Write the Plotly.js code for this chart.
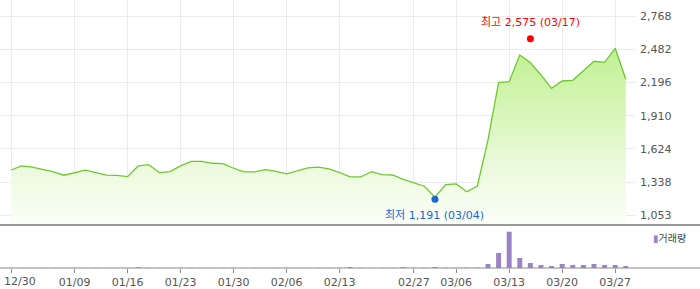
<!DOCTYPE html>
<html>
<head>
<meta charset="utf-8">
<script src="https://cdn.plot.ly/plotly-3.0.1.min.js"></script>
<style>html,body{margin:0;padding:0;background:#fff;}#chart{width:700px;height:289px;}</style>
</head>
<body>
<div id="chart"></div>
<script>
// ---- data ----
const dates = ['12/30','01/02','01/03','01/06','01/07','01/08','01/09','01/10','01/13','01/14',
  '01/15','01/16','01/17','01/20','01/21','01/22','01/23','01/24','01/27','01/28',
  '01/29','01/30','01/31','02/03','02/04','02/05','02/06','02/07','02/10','02/11',
  '02/12','02/13','02/14','02/17','02/18','02/24','02/25','02/26','02/27','02/28',
  '03/04','03/05','03/06','03/07','03/10','03/11','03/12','03/13','03/14','03/17',
  '03/18','03/19','03/20','03/21','03/24','03/25','03/26','03/27','03/28'];
const closePrice = [1443,1478,1467,1449,1426,1398,1420,1441,1420,1398,
  1396,1386,1478,1489,1420,1429,1478,1518,1518,1501,
  1498,1458,1426,1426,1446,1432,1409,1432,1461,1467,
  1452,1420,1383,1383,1429,1403,1400,1363,1334,1303,
  1208,1317,1323,1256,1305,1702,2196,2204,2434,2368,
  2262,2147,2210,2216,2299,2380,2371,2492,2225];
const volume = [20000,18000,15000,22000,17000,14000,19000,16000,21000,15000,
  18000,20000,80000,25000,17000,15000,19000,22000,16000,14000,
  18000,20000,15000,17000,16000,19000,21000,15000,18000,17000,
  20000,22000,100000,18000,16000,19000,21000,80000,24000,30000,
  100000,25000,28000,30000,35000,400000,1500000,3630000,1000000,500000,
  300000,200000,400000,300000,300000,400000,300000,300000,200000];
const tickDates = ['12/30','01/09','01/16','01/23','01/30','02/06','02/13','02/27','03/06','03/13','03/20','03/27'];
const priceTicks = [1053,1338,1624,1910,2196,2482,2768];
const priceTickText = ['1,053','1,338','1,624','1,910','2,196','2,482','2,768'];
const hiDate = '03/17', hiVal = 2575, hiLabel = '최고 2,575 (03/17)';
const loDate = '03/04', loVal = 1191, loLabel = '최저 1,191 (03/04)';
const volName = '거래량';

// ---- styles ----
const FONT = 'DejaVu Sans, Noto Sans CJK KR, sans-serif';
const priceRange = [969, 2908];
// the first label is drawn separately, nudged right so it stays inside the frame
const tickText = tickDates.map((d, i) => i === 0 ? '' : d);

const traces = [
  {
    x: dates, y: closePrice, type: 'scatter', mode: 'lines',
    xaxis: 'x2', yaxis: 'y',
    line: {color: '#6dc92e', width: 1.3},
    fill: 'tozeroy',
    fillgradient: {type: 'vertical', start: 969, stop: 2600,
      colorscale: [[0, '#fbfef8'], [0.3, '#ecfadd'], [1, '#bcef8a']]},
    hoverinfo: 'skip', showlegend: false
  },
  {
    x: [hiDate], y: [hiVal], type: 'scatter', mode: 'markers',
    xaxis: 'x2', yaxis: 'y',
    marker: {color: '#ff0000', size: 7}, showlegend: false, hoverinfo: 'skip', cliponaxis: false
  },
  {
    x: [loDate], y: [loVal], type: 'scatter', mode: 'markers',
    xaxis: 'x2', yaxis: 'y',
    marker: {color: '#1a66d6', size: 7}, showlegend: false, hoverinfo: 'skip', cliponaxis: false
  },
  {
    x: dates, y: volume, type: 'bar', xaxis: 'x', yaxis: 'y2',
    marker: {color: '#9b84c6'}, width: 0.47, showlegend: false, hoverinfo: 'skip'
  }
];

const xDomain = [0, 635/700];
const xRange = [-1.04, 58.87];

const layout = {
  width: 700, height: 289,
  margin: {l: 0, r: 0, t: 0, b: 0},
  paper_bgcolor: '#ffffff', plot_bgcolor: '#ffffff',
  font: {family: FONT, size: 11, color: '#555555'},
  showlegend: false,
  xaxis: {
    type: 'category', domain: xDomain, range: xRange, anchor: 'y2',
    categoryorder: 'array', categoryarray: dates,
    tickmode: 'array', tickvals: tickDates, ticktext: tickText,
    ticks: 'outside', ticklen: 4, tickcolor: '#888888', tickwidth: 1,
    showgrid: false, showline: false, zeroline: false,
    tickfont: {family: FONT, size: 11, color: '#555555'}
  },
  xaxis2: {
    type: 'category', domain: xDomain, range: xRange, anchor: 'y', matches: 'x',
    categoryorder: 'array', categoryarray: dates,
    tickmode: 'array', tickvals: tickDates,
    showticklabels: false, ticks: '',
    showgrid: true, gridcolor: '#ebebeb', gridwidth: 1,
    showline: false, zeroline: false
  },
  yaxis: {
    domain: [64/289, 1], range: priceRange, side: 'right', anchor: 'x2',
    tickmode: 'array', tickvals: priceTicks, ticktext: priceTickText,
    ticks: '', ticklabelstandoff: 4, showgrid: true, gridcolor: '#ebebeb', gridwidth: 1,
    zeroline: false, showline: false,
    tickfont: {family: FONT, size: 11, color: '#555555'}
  },
  yaxis2: {
    domain: [21/289, 63/289], range: [0, 4200000], anchor: 'x',
    showticklabels: false, ticks: '', showgrid: false, zeroline: false, showline: false
  },
  shapes: [
    {type: 'line', xref: 'paper', yref: 'y domain', x0: 0, x1: 1, y0: 0, y1: 0,
     line: {color: '#777777', width: 1.5}},
    {type: 'line', xref: 'paper', yref: 'y2 domain', x0: 0, x1: 1, y0: 0, y1: 0,
     line: {color: '#8a8a8a', width: 1}}
  ],
  annotations: [
    {x: tickDates[0], y: 8/289, xref: 'x', yref: 'paper', xanchor: 'left', yanchor: 'middle',
     xshift: -8, text: tickDates[0], showarrow: false, borderpad: 0,
     font: {family: FONT, size: 11, color: '#555555'}},
    {x: hiDate, y: hiVal, xref: 'x2', yref: 'y', text: hiLabel, showarrow: false,
     yshift: 16, font: {family: FONT, size: 11, color: '#ff0000'}},
    {x: loDate, y: loVal, xref: 'x2', yref: 'y', text: loLabel, showarrow: false,
     yshift: -16, font: {family: FONT, size: 11, color: '#1a66d6'}},
    {x: 651/700, y: 0.176, xref: 'paper', yref: 'paper', xanchor: 'left', yanchor: 'middle',
     text: '<span style="color:#9b84c6">▮</span>' + volName, showarrow: false,
     font: {family: FONT, size: 10, color: '#444444'}}
  ]
};

Plotly.newPlot('chart', traces, layout, {staticPlot: true, displayModeBar: false});
</script>
</body>
</html>
